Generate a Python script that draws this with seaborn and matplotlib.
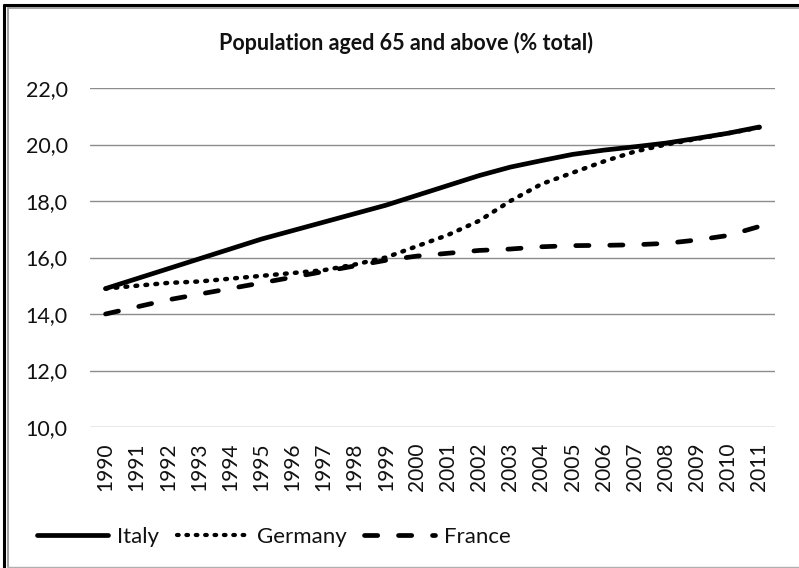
import numpy as np
import pandas as pd
import matplotlib
matplotlib.use("Agg")
import matplotlib.pyplot as plt
from matplotlib.lines import Line2D
import seaborn as sns

years = [str(y) for y in range(1990, 2012)]
italy = [14.9, 15.25, 15.6, 15.95, 16.3, 16.65, 16.95, 17.25, 17.55, 17.85, 18.2,
         18.55, 18.9, 19.2, 19.43, 19.65, 19.8, 19.92, 20.05, 20.22, 20.4, 20.62]
germany = [14.9, 15.0, 15.1, 15.15, 15.25, 15.35, 15.45, 15.55, 15.75, 16.0, 16.4,
           16.8, 17.3, 18.0, 18.6, 19.0, 19.4, 19.75, 20.0, 20.2, 20.4, 20.6]
france = [14.0, 14.25, 14.5, 14.7, 14.9, 15.1, 15.3, 15.5, 15.7, 15.9, 16.05,
          16.15, 16.25, 16.3, 16.38, 16.42, 16.43, 16.45, 16.5, 16.62, 16.78, 17.1]
series = ["Italy", "Germany", "France"]
yticks = [10, 12, 14, 16, 18, 20, 22]

df = pd.DataFrame({
    "idx": list(range(len(years))) * 3,
    "value": italy + germany + france,
    "country": [s for s in series for _ in years],
})

sns.set_style("white")
plt.rcParams['font.family'] = ['Lato', 'DejaVu Sans']

fig = plt.figure(figsize=(7.99, 5.68), dpi=100)
ax = fig.add_axes([90/799, 1-427/568, (775-90)/799, (427-88)/568])

DOT = (0, (0.4, 1.85))
DASH = (0, (2.8, 4.4))
styles = {"Italy": (None, 3.4), "Germany": (DOT, 3.2), "France": (DASH, 3.4)}
for name in ["France", "Germany", "Italy"]:
    sub = df[df.country == name]
    ls, lw = styles[name]
    sns.lineplot(data=sub, x="idx", y="value", color="black", linewidth=lw, ax=ax, legend=False)
    l = ax.lines[-1]
    if ls is not None:
        l.set_linestyle(ls)
        l.set_dash_capstyle("round")
    else:
        l.set_solid_capstyle("round")

ax.set_xlim(-0.5, len(years) - 0.5)
ax.set_ylim(10, 22)
ax.set_yticks(yticks)
ax.set_yticklabels([f"{v:.1f}".replace(".", ",") for v in yticks], fontsize=15.5, color="#111111")
ax.set_xticks(range(len(years)))
ax.set_xticklabels(years, rotation=90, fontsize=15, color="#111111")
ax.tick_params(axis="both", length=0)
ax.tick_params(axis="y", pad=16)
ax.tick_params(axis="x", pad=11)
ax.yaxis.grid(True, color="#8c8c8c", linewidth=1.0)
ax.set_axisbelow(True)
for s in ax.spines.values():
    s.set_visible(False)
ax.set_xlabel("")
ax.set_ylabel("")

fig.text(406/799, 1-43/568, "Population aged 65 and above (% total)", ha="center", va="center",
         fontsize=15.5, fontweight="bold", color="#111111")

handles = [
    Line2D([], [], color="black", linewidth=3.4, solid_capstyle="round"),
    Line2D([], [], color="black", linewidth=3.0, linestyle=DOT, dash_capstyle="round"),
    Line2D([], [], color="black", linewidth=3.4, linestyle=DASH, dash_capstyle="round"),
]
fig.legend(handles, series, loc="center left", bbox_to_anchor=(37/799, 1-537/568), ncol=3,
           frameon=False, fontsize=16, handlelength=3.2, handletextpad=0.4, columnspacing=0.8,
           borderpad=0, borderaxespad=0, labelcolor="#111111")

# frame
fig.add_artist(Line2D([3.5/799, 3.5/799], [0, 1-5/568], color="black", linewidth=2.2, transform=fig.transFigure))
fig.add_artist(Line2D([3.5/799, 1], [1-5/568, 1-5/568], color="black", linewidth=2.2, transform=fig.transFigure))
fig.add_artist(Line2D([7.5/799, 7.5/799], [1-566.5/568, 1-8/568], color="#9a9a9a", linewidth=1.3, transform=fig.transFigure))
fig.add_artist(Line2D([7.5/799, 1], [1-8/568, 1-8/568], color="#9a9a9a", linewidth=1.3, transform=fig.transFigure))
fig.add_artist(Line2D([7.5/799, 1], [1-566.5/568, 1-566.5/568], color="#b0b0b0", linewidth=1.0, transform=fig.transFigure))

fig.savefig("out.png", dpi=100)
